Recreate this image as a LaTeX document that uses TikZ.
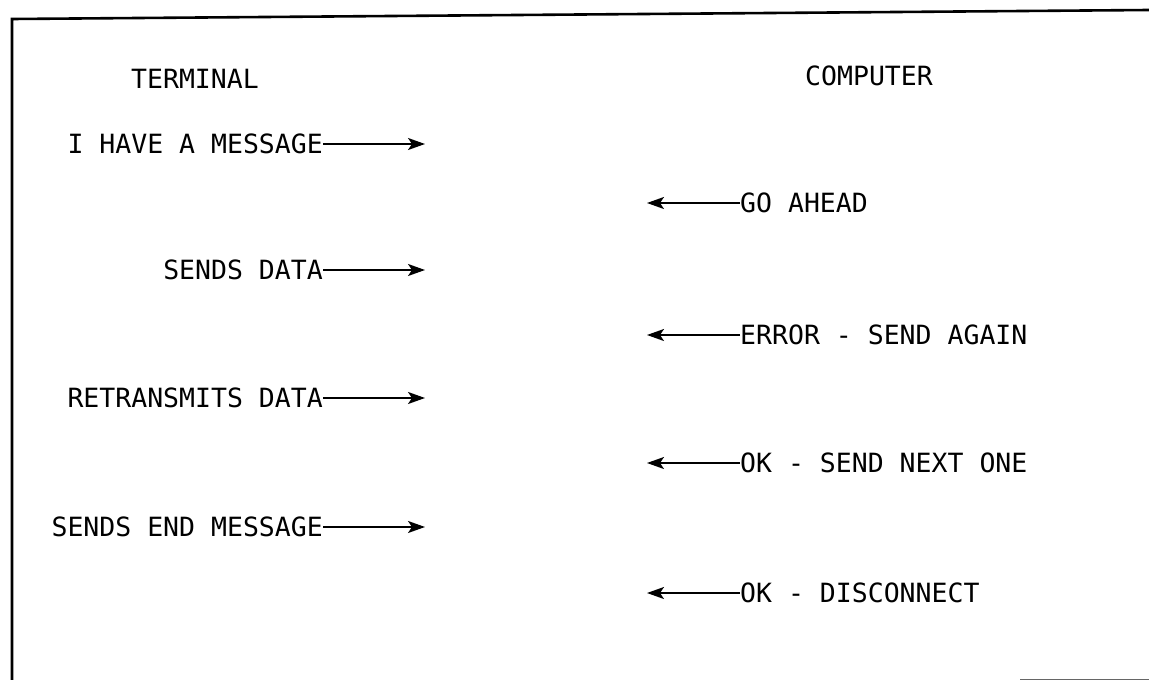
\documentclass[tikz,border=0pt]{standalone}
\usepackage{fontspec}
\newfontfamily\plotfont{DejaVu Sans Mono}
\usetikzlibrary{arrows.meta}

\begin{document}
\begin{tikzpicture}[x=1pt,y=-1pt,
    msg/.style={font=\plotfont\fontsize{26.5}{30}\selectfont, inner sep=0pt},
    link/.style={line width=1.8pt, -{Stealth[length=17pt,width=12pt,inset=4pt]}}]
  \useasboundingbox (0,0) rectangle (1149,680);
  % frame
  \draw[line width=2.6pt] (12,680) -- (12,19) -- (1149,10);
  \draw[line width=1pt, black!60] (1020,679) -- (1149,679);
  % heads
  \node[msg] (terminal) at (195,79) {TERMINAL};
  \node[msg] (computer) at (869,76) {COMPUTER};
  % terminal side
  \foreach \y/\nm/\txt in {
      144/have/{I HAVE A MESSAGE},
      270/data/{SENDS DATA},
      398/redo/{RETRANSMITS DATA},
      527/done/{SENDS END MESSAGE}
    } {
    \node[msg, anchor=east] (\nm) at (323,\y) {\txt};
    \coordinate (\nm-tip) at (425,\y);
    \draw[link] (\nm.east) -- (\nm-tip);
  }
  % computer side
  \foreach \y/\nm/\txt in {
      203/ahead/{GO AHEAD},
      335/again/{ERROR - SEND AGAIN},
      463/next/{OK - SEND NEXT ONE},
      593/bye/{OK - DISCONNECT}
    } {
    \node[msg, anchor=west] (\nm) at (740,\y) {\txt};
    \coordinate (\nm-tip) at (647,\y);
    \draw[link] (\nm.west) -- (\nm-tip);
  }
\end{tikzpicture}
\end{document}
